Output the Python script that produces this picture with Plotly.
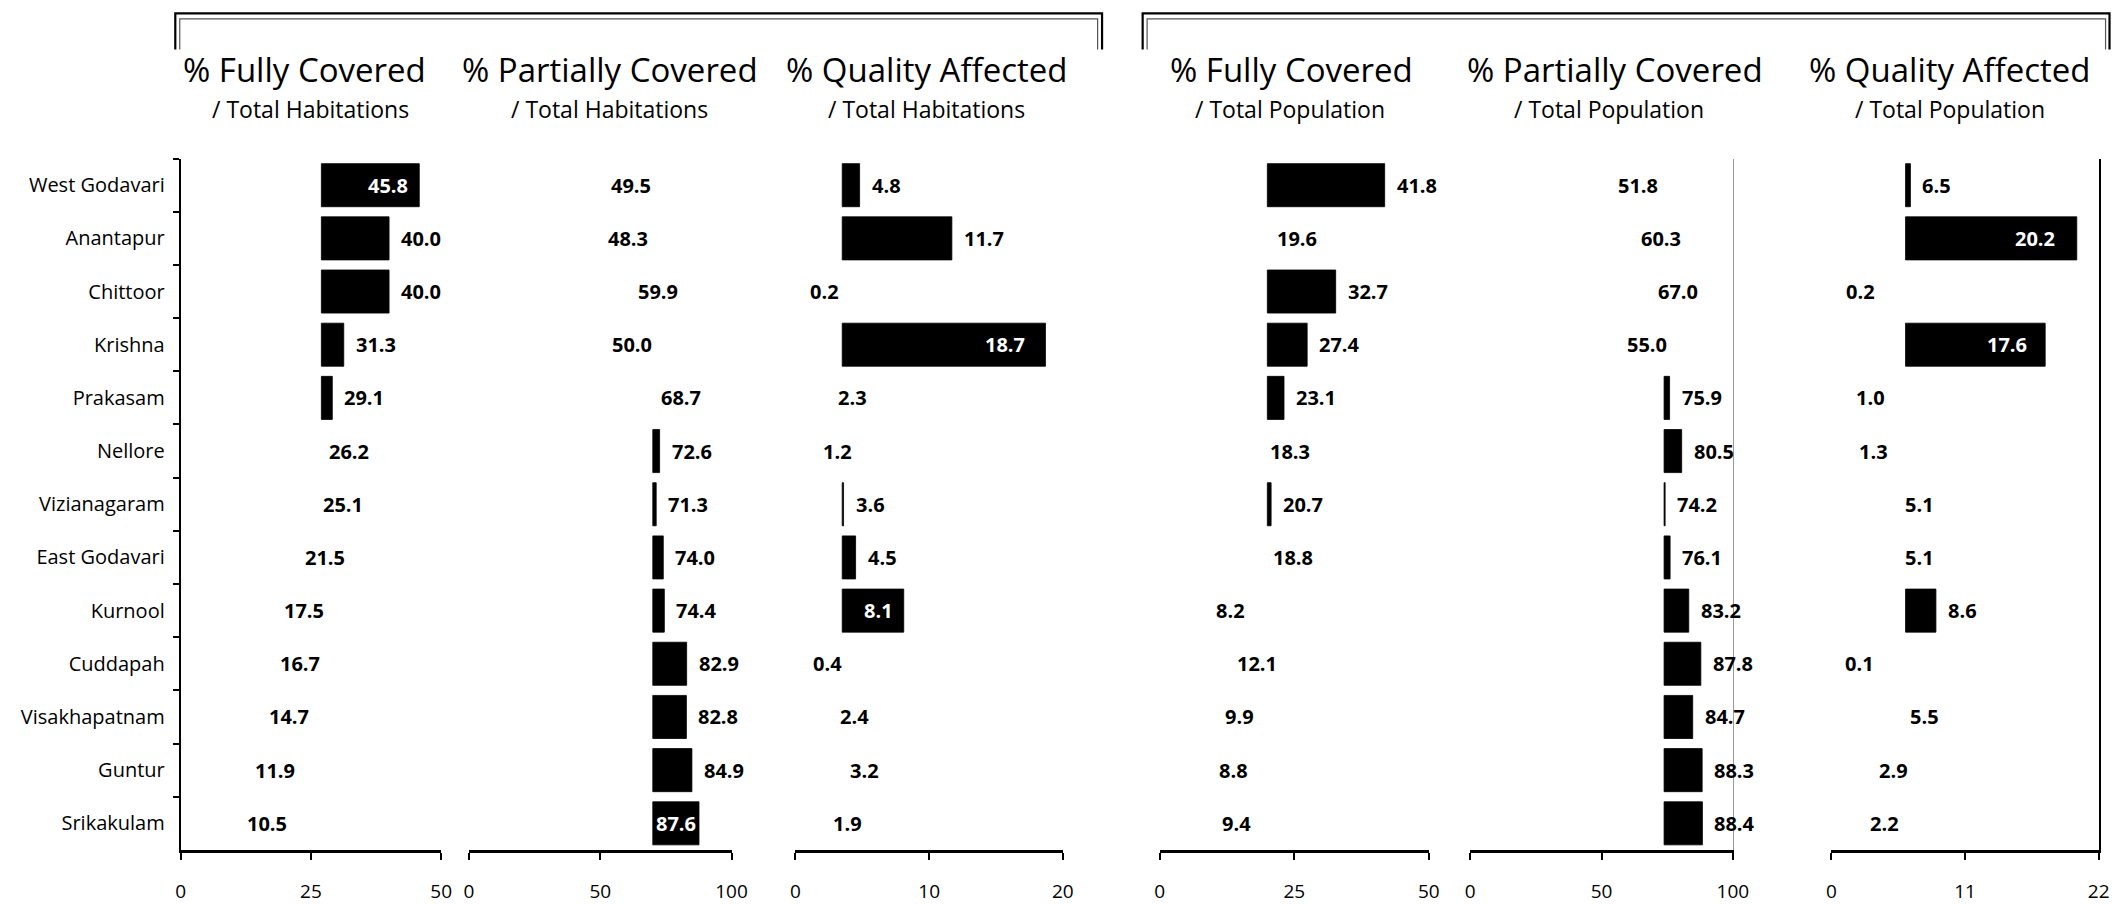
import plotly.graph_objects as go

W, H = 2127, 904

districts = ["West Godavari", "Anantapur", "Chittoor", "Krishna", "Prakasam", "Nellore",
             "Vizianagaram", "East Godavari", "Kurnool", "Cuddapah", "Visakhapatnam",
             "Guntur", "Srikakulam"]

hab_full = [45.8, 40.0, 40.0, 31.3, 29.1, 26.2, 25.1, 21.5, 17.5, 16.7, 14.7, 11.9, 10.5]
hab_partial = [49.5, 48.3, 59.9, 50.0, 68.7, 72.6, 71.3, 74.0, 74.4, 82.9, 82.8, 84.9, 87.6]
hab_quality = [4.8, 11.7, 0.2, 18.7, 2.3, 1.2, 3.6, 4.5, 8.1, 0.4, 2.4, 3.2, 1.9]
pop_full = [41.8, 19.6, 32.7, 27.4, 23.1, 18.3, 20.7, 18.8, 8.2, 12.1, 9.9, 8.8, 9.4]
pop_partial = [51.8, 60.3, 67.0, 55.0, 75.9, 80.5, 74.2, 76.1, 83.2, 87.8, 84.7, 88.3, 88.4]
pop_quality = [6.5, 20.2, 0.2, 17.6, 1.0, 1.3, 5.1, 5.1, 8.6, 0.1, 5.5, 2.9, 2.2]

titles = ["% Fully Covered", "% Partially Covered", "% Quality Affected",
          "% Fully Covered", "% Partially Covered", "% Quality Affected"]
subtitles = ["/ Total Habitations"] * 3 + ["/ Total Population"] * 3
axis_max = [50, 100, 20, 50, 100, 22]
axis_ticks = [[0, 25, 50], [0, 50, 100], [0, 10, 20], [0, 25, 50], [0, 50, 100], [0, 11, 22]]
bar_origin = [27.0, 70.0, 3.5, 20.0, 73.8, 6.1]

series = [hab_full, hab_partial, hab_quality, pop_full, pop_partial, pop_quality]

# layout geometry (pixels)
panel_px = [(177.5, 440.5), (468.6, 733.8), (798.3, 1068.4),
            (1166.2, 1438.0), (1479.9, 1745.1), (1844.7, 2114.5)]
title_cx = [302, 611, 931, 1299, 1626, 1964]
sub_cx = [309, 611, 931, 1298, 1620, 1964]
inside_shift = {(0, 0): -9, (1, 12): -1, (2, 3): -18, (2, 8): -9, (5, 1): -20, (5, 3): -16}

FONT = "Open Sans"


def px(x):
    return x / W


def py(y):
    return (H - y) / H


fig = go.Figure()
annotations = []
layout = {}

for i in range(6):
    n = i + 1
    xa = "x" if n == 1 else f"x{n}"
    ya = "y" if n == 1 else f"y{n}"
    vals = series[i]
    base = bar_origin[i]
    lengths = [(v - base) if v >= base else None for v in vals]
    fig.add_trace(go.Bar(
        y=districts, x=lengths, base=base, orientation="h",
        marker=dict(color="black", line=dict(color="black", width=0.8)),
        xaxis=xa, yaxis=ya, showlegend=False, hoverinfo="skip",
    ))
    for j, v in enumerate(vals):
        if (i, j) in inside_shift:
            annotations.append(dict(
                x=v, y=districts[j], xref=xa, yref=ya, text=f"{v:.1f}",
                showarrow=False, xanchor="right", yanchor="middle",
                xshift=inside_shift[(i, j)],
                font=dict(family=FONT, size=20, color="white", weight=700)))
        else:
            annotations.append(dict(
                x=v, y=districts[j], xref=xa, yref=ya, text=f"{v:.1f}",
                showarrow=False, xanchor="left", yanchor="middle", xshift=10,
                font=dict(family=FONT, size=20, color="black", weight=700)))

    x0, x1 = panel_px[i]
    layout["xaxis" if n == 1 else f"xaxis{n}"] = dict(
        domain=[px(x0), px(x1)], range=[0, axis_max[i]], anchor=ya,
        showline=True, linecolor="black", linewidth=2.5,
        ticks="outside", ticklen=7, tickwidth=2, tickcolor="black",
        tickvals=axis_ticks[i], ticktext=[str(t) for t in axis_ticks[i]],
        ticklabelstandoff=16,
        tickfont=dict(family=FONT, size=19, color="black"),
        showgrid=False, zeroline=False, fixedrange=True,
    )
    yax = dict(
        domain=[py(857.5), py(160)], anchor=xa, autorange="reversed",
        type="category", categoryorder="array", categoryarray=districts,
        showgrid=False, zeroline=False, fixedrange=True,
    )
    if n == 1:
        yax.update(showline=True, linecolor="black", linewidth=2,
                   ticks="outside", ticklen=6, tickwidth=2, tickcolor="black",
                   tickson="boundaries", ticklabelstandoff=10,
                   tickfont=dict(family=FONT, size=20, color="black"))
    else:
        yax.update(matches="y", showticklabels=False, ticks="")
        if n == 5:
            yax.update(side="right", showline=True, linecolor="#9a9a9a", linewidth=1)
        elif n == 6:
            yax.update(side="right", showline=True, linecolor="black", linewidth=1.5)
        else:
            yax.update(showline=False)
    layout["yaxis" if n == 1 else f"yaxis{n}"] = yax

    annotations.append(dict(
        x=px(title_cx[i]), y=py(70), xref="paper", yref="paper", text=titles[i],
        showarrow=False, xanchor="center", yanchor="middle",
        font=dict(family=FONT, size=33, color="black")))
    annotations.append(dict(
        x=px(sub_cx[i]), y=py(110), xref="paper", yref="paper", text=subtitles[i],
        showarrow=False, xanchor="center", yanchor="middle",
        font=dict(family=FONT, size=23, color="black")))


def bracket(xl, xr, ytop, ybot):
    return (f"M {px(xl)},{py(ybot)} L {px(xl)},{py(ytop)} "
            f"L {px(xr)},{py(ytop)} L {px(xr)},{py(ybot)}")


shapes = [
    dict(type="path", xref="paper", yref="paper", path=bracket(172, 1108, 13.5, 50),
         line=dict(color="black", width=2.2)),
    dict(type="path", xref="paper", yref="paper", path=bracket(176.5, 1103.5, 19, 50),
         line=dict(color="#555555", width=1.2)),
    dict(type="path", xref="paper", yref="paper", path=bracket(1149, 2125.5, 13.5, 50),
         line=dict(color="black", width=2.2)),
    dict(type="path", xref="paper", yref="paper", path=bracket(1153.5, 2121.5, 19, 50),
         line=dict(color="#555555", width=1.2)),
]

fig.update_layout(
    width=W, height=H, margin=dict(l=0, r=0, t=0, b=0),
    paper_bgcolor="white", plot_bgcolor="white",
    bargap=0.19, annotations=annotations, shapes=shapes,
    font=dict(family=FONT, color="black"),
    **layout,
)

fig.write_html(
    "out.html",
    config={"displayModeBar": False},
    post_script="document.body.style.margin='0';document.body.style.overflow='hidden';",
)
